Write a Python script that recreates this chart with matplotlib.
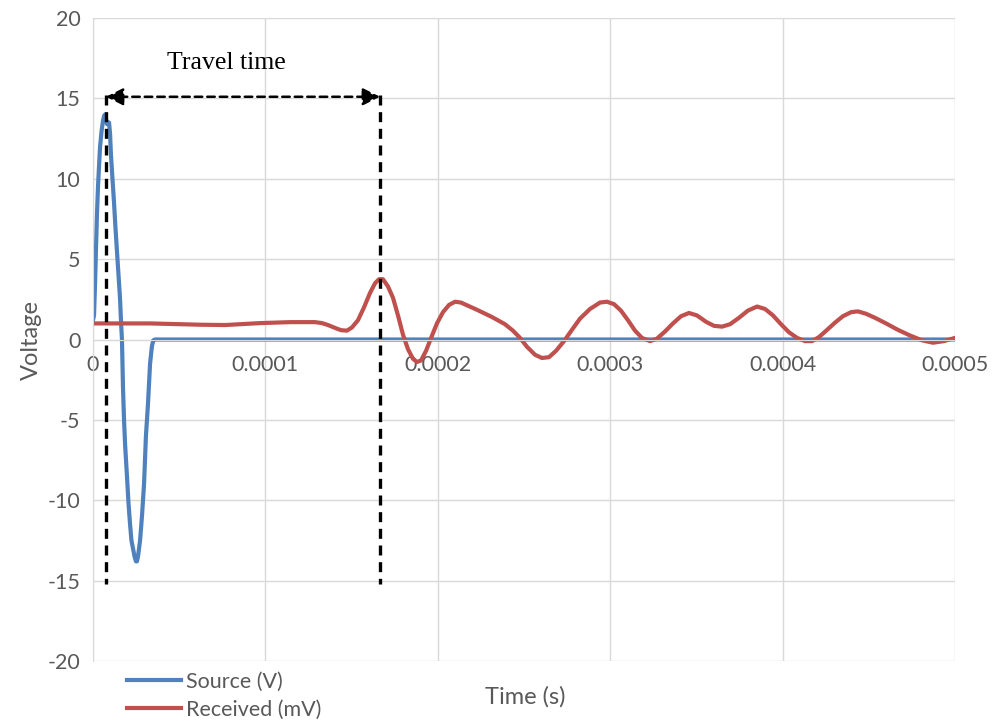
import matplotlib
matplotlib.use("Agg")
import matplotlib.pyplot as plt
from matplotlib.ticker import FuncFormatter

# source pulse (V)
src_t = [0, 0.6e-6, 1.2e-6, 1.7e-6, 2.3e-6, 2.9e-6, 3.5e-6, 4.1e-6, 5.0e-6, 5.8e-6,
         6.4e-6, 7.0e-6, 7.6e-6, 8.1e-6, 8.7e-6, 9.3e-6, 9.9e-6, 10.4e-6, 11.3e-6,
         12.2e-6, 13.0e-6, 13.9e-6, 14.8e-6, 15.7e-6, 16.3e-6, 16.8e-6, 17.4e-6, 18.0e-6,
         18.6e-6, 19.7e-6, 20.6e-6, 21.5e-6, 22.3e-6, 23.2e-6, 24.1e-6, 24.9e-6, 25.5e-6,
         26.1e-6, 27.3e-6, 28.4e-6, 29.6e-6, 30.7e-6, 31.9e-6, 33.1e-6, 34.2e-6, 35.0e-6,
         36e-6, 5e-4]
src_v = [1.2, 1.5, 3.5, 5.5, 7.8, 9.5, 10.8, 12.0, 13.0, 13.6,
         13.9, 14.0, 13.7, 13.4, 13.4, 13.5, 12.8, 11.5, 10.0,
         8.5, 7.0, 5.5, 4.0, 2.5, 1.0, 0.0, -3.0, -5.0,
         -6.5, -8.5, -10.2, -11.5, -12.5, -13.0, -13.5, -13.8, -13.8,
         -13.5, -12.5, -11.0, -9.0, -6.0, -4.0, -1.5, -0.4, -0.05,
         0.0, 0.0]

# received signal (mV)
rec_t = [0, 3.3e-5, 6.2e-5, 7.66e-5, 9.69e-5, 1.143e-4, 1.288e-4, 1.328e-4, 1.363e-4,
         1.404e-4, 1.439e-4, 1.473e-4, 1.502e-4, 1.537e-4, 1.572e-4, 1.607e-4, 1.636e-4,
         1.659e-4, 1.682e-4, 1.711e-4, 1.740e-4, 1.769e-4, 1.798e-4, 1.827e-4, 1.856e-4,
         1.879e-4, 1.903e-4, 1.932e-4, 1.961e-4, 1.995e-4, 2.030e-4, 2.065e-4, 2.100e-4,
         2.134e-4, 2.175e-4, 2.227e-4, 2.314e-4, 2.390e-4, 2.436e-4, 2.477e-4, 2.517e-4,
         2.564e-4, 2.604e-4, 2.645e-4, 2.686e-4, 2.732e-4, 2.778e-4, 2.825e-4, 2.883e-4,
         2.941e-4, 2.981e-4, 3.022e-4, 3.062e-4, 3.103e-4, 3.144e-4, 3.184e-4, 3.231e-4,
         3.271e-4, 3.318e-4, 3.364e-4, 3.411e-4, 3.457e-4, 3.503e-4, 3.556e-4, 3.602e-4,
         3.649e-4, 3.695e-4, 3.747e-4, 3.799e-4, 3.852e-4, 3.898e-4, 3.944e-4, 3.991e-4,
         4.037e-4, 4.084e-4, 4.130e-4, 4.171e-4, 4.211e-4, 4.258e-4, 4.304e-4, 4.350e-4,
         4.397e-4, 4.437e-4, 4.484e-4, 4.536e-4, 4.600e-4, 4.669e-4, 4.739e-4, 4.808e-4,
         4.872e-4, 4.936e-4, 5.0e-4]
rec_v = [1.0, 1.0, 0.92, 0.9, 1.02, 1.08, 1.08, 1.02, 0.9,
         0.72, 0.58, 0.55, 0.75, 1.2, 2.0, 2.9, 3.5,
         3.75, 3.75, 3.3, 2.6, 1.5, 0.3, -0.6, -1.2,
         -1.4, -1.3, -0.7, 0.1, 1.0, 1.7, 2.15, 2.35,
         2.3, 2.1, 1.85, 1.4, 0.95, 0.55, 0.1, -0.45,
         -0.95, -1.15, -1.1, -0.7, -0.1, 0.6, 1.3, 1.9,
         2.3, 2.35, 2.2, 1.8, 1.2, 0.55, 0.1, -0.1,
         0.05, 0.5, 1.0, 1.45, 1.65, 1.5, 1.1, 0.85,
         0.8, 0.95, 1.35, 1.8, 2.05, 1.9, 1.5, 0.95,
         0.45, 0.1, -0.1, -0.1, 0.15, 0.6, 1.05, 1.45,
         1.7, 1.75, 1.6, 1.35, 1.0, 0.6, 0.25, -0.05,
         -0.2, -0.1, 0.1]

t_start = 7.5e-6
t_arrive = 1.665e-4

plt.rcParams['font.family'] = ['Lato', 'DejaVu Sans']
plt.rcParams['axes.unicode_minus'] = False
fig = plt.figure(figsize=(9.92, 7.23), dpi=100)
ax = fig.add_axes([93/992, 1-661/723, (955-93)/992, (661-18)/723])

ax.plot(src_t, src_v, color='#4f81bd', lw=3.0, label='Source (V)', solid_joinstyle='round')
ax.plot(rec_t, rec_v, color='#c0504d', lw=3.0, label='Received (mV)', solid_joinstyle='round')

# travel time markers
dash = (0, (3, 2))
ax.plot([t_start, t_start], [15.2, -15.2], color='black', lw=2.4, ls=dash)
ax.plot([t_arrive, t_arrive], [15.2, -15.2], color='black', lw=2.4, ls=dash)
ax.annotate('', xy=(t_start, 15.1), xytext=(t_arrive, 15.1),
            arrowprops=dict(arrowstyle='<|-|>', color='black', lw=1.8, ls=(0, (3, 2)),
                            mutation_scale=26, shrinkA=0, shrinkB=0))
ax.text(7.75e-5, 17.2, 'Travel time', family='Liberation Serif', fontsize=18.5,
        ha='center', va='center')

ax.set_xlim(0, 0.0005)
ax.set_ylim(-20, 20)
ax.set_xticks([0, 0.0001, 0.0002, 0.0003, 0.0004, 0.0005])
ax.set_yticks(range(-20, 21, 5))
ax.xaxis.set_major_formatter(FuncFormatter(lambda v, p: '0' if v == 0 else f'{v:.4f}'))
ax.grid(True, color='#d9d9d9', lw=1)
ax.set_axisbelow(True)
for s in ['top', 'right']:
    ax.spines[s].set_visible(False)
ax.spines['bottom'].set_position(('data', 0))
ax.spines['bottom'].set_color('#d9d9d9')
ax.spines['left'].set_color('#d9d9d9')
ax.tick_params(length=0, labelsize=15.5, colors='#595959', pad=9)
ax.tick_params(axis='x', pad=11)

ax.set_ylabel('Voltage', fontsize=17, color='#595959', labelpad=4)
fig.text(525/992, 1-697/723, 'Time (s)', fontsize=17, color='#595959', ha='center', va='center')

ax.legend(loc='upper left', bbox_to_anchor=(127/992, 1-672/723), bbox_transform=fig.transFigure,
          frameon=False, fontsize=15.5, handlelength=2.5, handletextpad=0.25,
          borderpad=0, borderaxespad=0, labelspacing=0.35, labelcolor='#595959')

fig.savefig('out.png', dpi=100)
